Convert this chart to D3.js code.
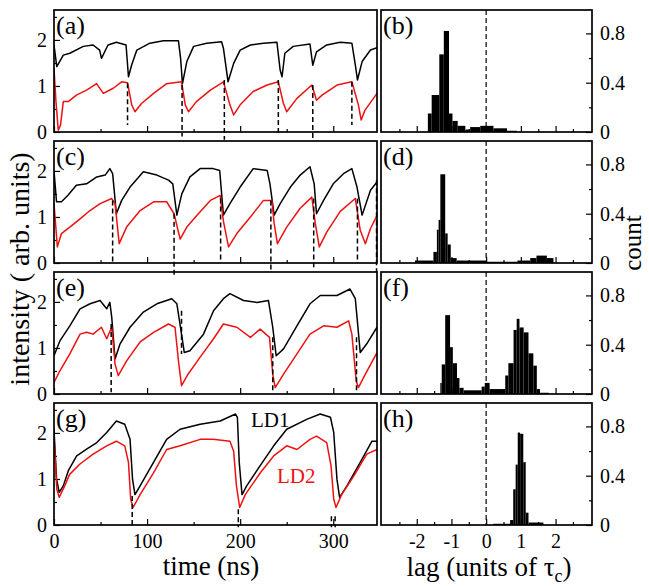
<!DOCTYPE html>
<meta charset="utf-8">
<style>
body { margin: 0; background: #fff; }
svg, text { font-family: "Liberation Serif", "Times New Roman", serif; }
.frame { fill: none; stroke: #000; stroke-width: 1.7; }
.ld1 { fill: none; stroke: #000; stroke-width: 1.5; stroke-linejoin: round; }
.ld2 { fill: none; stroke: #ee1111; stroke-width: 1.5; stroke-linejoin: round; }
.drop { stroke: #000; stroke-width: 1.5; stroke-dasharray: 5,3; }
.zero { stroke: #000; stroke-width: 1.2; stroke-dasharray: 5,3; }
.bar { fill: #000; }
</style>
<svg id="fig" width="649" height="586"></svg>
<script src="https://d3js.org/d3.v7.min.js"></script>
<script>

// time traces [time (ns), intensity], LD1 = black, LD2 = red
var ld1_a = [[0,1.89],[3,1.42],[10,1.67],[17,1.71],[31.5,1.86],[42,1.89],[49,1.78],[51,1.6],[58,1.89],[67,1.95],[77.4,1.89],[80,1.2],[83.5,1.46],[89,1.78],[103,1.93],[117.6,1.98],[133.7,1.98],[136,1.6],[138,1.05],[142.7,1.53],[150,1.86],[164,1.93],[180,1.96],[182,1.82],[187,1.09],[193,1.49],[200,1.78],[211,1.89],[225,1.93],[239.5,1.95],[243,1.34],[245,1.2],[248,1.71],[257,1.86],[275,1.91],[278,1.45],[282,1.74],[293,1.89],[307.5,1.95],[320,1.93],[323.7,1.46],[326,1.13],[331,1.53],[340,1.78],[347,1.83]];
var ld2_a = [[0,1.39],[2.1,0.66],[4.6,0.04],[7,0.15],[10,0.66],[15.4,0.66],[24,0.8],[35,0.91],[45.7,1.05],[53,0.84],[63.7,0.95],[72.7,1.09],[79,1.07],[83.5,0.59],[87,0.44],[94,0.62],[107,0.84],[121,1.05],[137,1.09],[141,0.59],[144.5,0.44],[153,0.66],[168,0.91],[182,1.09],[189,0.59],[193,0.37],[200,0.59],[214,0.88],[229,1.02],[241,1.09],[246.5,0.62],[250,0.44],[261,0.73],[277,1.02],[282,0.69],[288,0.8],[304,1.02],[320,1.09],[327,0.59],[330,0.26],[334,0.47],[347,0.84]];

var ld1_c = [[0,2.01],[2.7,1.33],[8,1.33],[15,1.47],[24,1.69],[35,1.72],[46,1.87],[55,1.91],[60,2.05],[63,1.94],[67,1.07],[72.7,1.36],[81.7,1.65],[96,1.98],[110.5,1.91],[123,1.8],[127.6,1.72],[132,1.04],[137.3,1.5],[146,1.87],[157,2.05],[171,2.05],[178,2.01],[182,1.04],[189,1.29],[200,1.65],[214,2.05],[229,2.01],[232,1.72],[236.5,1.04],[243,1.29],[254,1.65],[264.5,1.91],[275,2.09],[279.5,1.72],[282,1.07],[289.6,1.36],[300,1.72],[311,1.94],[320,2.05],[325.5,1.65],[331,1.04],[340,1.58],[347,1.76]];
var ld2_c = [[0,1.29],[3.6,0.35],[8,0.64],[17,0.78],[28,0.96],[38.7,1.14],[49.5,1.29],[62,1.4],[65.6,1.29],[70,0.42],[78,0.78],[92.5,1.14],[107,1.33],[121,1.33],[129,1.07],[135.5,0.52],[142.7,0.78],[153.4,1.03],[168,1.36],[178.5,1.47],[182,0.91],[187.5,0.35],[196.4,0.64],[211,1.0],[225,1.36],[234,1.36],[236.5,0.86],[240,0.42],[250,0.78],[264.5,1.19],[277,1.43],[280.7,0.86],[285,0.35],[293,0.67],[307.5,1.12],[323.7,1.4],[329,0.71],[334.5,0.42],[340,0.75],[347,1.03]];

var ld1_e = [[0,0.83],[6.5,1.16],[17,1.48],[28,1.85],[38.7,1.96],[49.5,2.03],[56.6,1.85],[60,1.99],[62,1.67],[65.6,0.76],[71,1.09],[81.7,1.45],[96,1.78],[110.5,1.96],[126.5,2.07],[132,1.96],[137,1.3],[140,0.9],[146,0.94],[160.6,1.3],[171.4,1.81],[182,2.07],[189,2.18],[203.6,2.03],[218,1.99],[230.4,2.03],[235,1.45],[238.7,0.83],[246.6,0.98],[261,1.48],[275,1.96],[286,2.14],[304,2.14],[318,2.28],[323.7,2.07],[329,0.9],[336,1.09],[347,1.45]];
var ld2_e = [[0,0.25],[6.5,0.51],[17,0.87],[28,1.3],[35,1.34],[42,1.3],[51,1.45],[56.6,1.2],[62,1.45],[65.6,0.65],[69,0.4],[78,0.72],[92.5,1.13],[107,1.34],[123,1.52],[130,1.45],[133.7,0.72],[137,0.18],[144,0.43],[157,0.8],[171.4,1.2],[182,1.52],[196.4,1.45],[211,1.23],[221.5,1.41],[231.5,1.23],[235,0.43],[237.6,0.14],[246.6,0.43],[261,0.87],[275,1.3],[289.6,1.48],[304,1.45],[316.5,1.59],[320,1.3],[324.7,0.28],[327,0.14],[334.5,0.43],[347,0.9]];

var ld1_g = [[0,2.08],[2.7,1.0],[5.6,0.71],[10,0.85],[15.4,1.18],[24.4,1.5],[35,1.65],[46,1.79],[56.6,2.01],[67,2.26],[76,2.19],[81.7,1.86],[84.4,0.99],[87,0.66],[92.5,0.85],[106.9,1.36],[121,1.86],[135.5,2.08],[157,2.19],[178.5,2.26],[195,2.41],[197,2.34],[199,1.36],[202,0.66],[207,0.85],[221.5,1.29],[236,1.72],[250,2.08],[272,2.3],[286,2.41],[297,2.34],[300.5,2.01],[304,0.99],[306.8,0.6],[314.7,0.85],[329,1.36],[341.6,1.82],[347,1.82]];
var ld2_g = [[0,1.93],[3,0.78],[5.6,0.6],[11.5,0.85],[16.8,1.1],[27.6,1.32],[42,1.54],[56.6,1.72],[67,1.82],[76,1.72],[80,1.36],[82.4,0.56],[85,0.38],[92.5,0.66],[106.9,1.13],[121,1.64],[135.5,1.72],[157,1.86],[171,1.86],[189,1.82],[193,1.6],[196,0.85],[199.5,0.38],[205.5,0.66],[221.5,1.13],[236,1.5],[250,1.72],[261,1.64],[275,1.86],[282,1.93],[293,1.79],[297.6,1.29],[300.5,0.56],[303,0.38],[309,0.66],[322,1.06],[336,1.54],[347,1.64]];

// dashed markers [time, upper value, lower value]
var drops_a = [[79,1.06,0.15],[137.6,1.02,-0.1],[183,1.13,-0.17],[241,1.13,-0.07],[278,1.02,-0.17],[320,1.09,0.15]];
var drops_c = [[63,1.36,0],[129,1.07,-0.3],[179,1.4,0.02],[233,1.36,-0.2],[279,1.4,-0.09],[326,1.4,0],[346.5,1.8,-0.2]];
var drops_e = [[61.4,1.52,0.04],[137,1.81,0.87],[235,1.23,0.04],[325,1.23,0.04]];
var drops_g = [[84,0.63,-0.05],[198,0.34,-0.05],[298,0.19,-0.05],[302,0.19,-0.05]];

// lag histograms [bin start, bin end, count]
var hist_b = [[-1.68,-1.57,0.15],[-1.57,-1.35,0.30],[-1.35,-1.22,0.63],[-1.22,-1.07,0.82],[-1.07,-0.97,0.15],[-0.97,-0.82,0.09],[-0.82,-0.6,0.05],[-0.6,-0.46,0.02],[-0.46,-0.17,0.04],[-0.17,0.21,0.05],[0.21,0.6,0.03],[0.6,0.89,0.01]];
var hist_d = [[-2.05,-1.52,0.02],[-1.52,-1.42,0.09],[-1.42,-1.37,0.27],[-1.37,-1.32,0.35],[-1.32,-1.18,0.72],[-1.18,-1.11,0.24],[-1.11,-1.02,0.15],[-1.02,-0.85,0.04],[-0.85,0,0.02],[0,0.9,0.01],[0.9,1.27,0.02],[1.27,1.45,0.04],[1.45,1.75,0.06],[1.75,1.94,0.04]];
var hist_f = [[-1.32,-1.28,0.09],[-1.28,-1.18,0.24],[-1.18,-1.04,0.64],[-1.04,-0.96,0.38],[-0.96,-0.84,0.25],[-0.84,-0.77,0.13],[-0.77,-0.65,0.05],[-0.65,-0.13,0.03],[-0.13,-0.04,0.06],[-0.04,0.1,0.09],[0.1,0.55,0.04],[0.55,0.64,0.15],[0.64,0.79,0.25],[0.79,0.88,0.52],[0.88,0.96,0.61],[0.96,1.08,0.54],[1.08,1.22,0.5],[1.22,1.36,0.33],[1.36,1.46,0.23],[1.46,1.55,0.04],[1.55,1.8,0.01]];
var hist_h = [[0.21,0.69,0.01],[0.69,0.78,0.04],[0.78,0.85,0.29],[0.85,0.91,0.49],[0.91,0.98,0.75],[0.98,1.07,0.74],[1.07,1.14,0.51],[1.14,1.22,0.1],[1.22,1.65,0.02]];

var timeTicks = [0, 100, 200, 300], timeMinor = [50, 150, 250];
var intTicks = [0, 1, 2], intMinor = [0.5, 1.5, 2.5];
var lagTicks = [-2, -1, 0, 1, 2], lagMinor = [-2.5, -1.5, -0.5, 0.5, 1.5, 2.5];
var cntTicks = [0, 0.4, 0.8], cntMinor = [0.2, 0.6];

var leftPanels = [
  {tag: "(a)", ld1: ld1_a, ld2: ld2_a, drops: drops_a},
  {tag: "(c)", ld1: ld1_c, ld2: ld2_c, drops: drops_c},
  {tag: "(e)", ld1: ld1_e, ld2: ld2_e, drops: drops_e},
  {tag: "(g)", ld1: ld1_g, ld2: ld2_g, drops: drops_g}
];
var rightPanels = [
  {tag: "(b)", hist: hist_b}, {tag: "(d)", hist: hist_d},
  {tag: "(f)", hist: hist_f}, {tag: "(h)", hist: hist_h}
];

var svg = d3.select("svg#fig");
var tops = [10, 141, 272, 403], ph = 122;

var xT = d3.scaleLinear().domain([0, 347]).range([54, 377]);
var xL = d3.scaleLinear().domain([-3.03, 3.05]).range([381, 592]);

var line = d3.line()
    .x(function(d) { return xT(d[0]); });

function styleAxis(g) {
  g.select(".domain").remove();
  g.attr("font-family", null).attr("font-size", 20);
  g.selectAll(".tick line").attr("stroke-width", 1.2);
  g.selectAll(".tick text").attr("fill", "#000");
}

leftPanels.forEach(function(p, i) {
  var top = tops[i], bot = top + ph;
  var y = d3.scaleLinear().domain([0, 2.65]).range([bot, top]);
  var g = svg.append("g");

  g.append("clipPath").attr("id", "clipL" + i)
    .append("rect").attr("x", xT.range()[0]).attr("y", top)
    .attr("width", xT.range()[1] - xT.range()[0]).attr("height", ph);

  var last = i == leftPanels.length - 1;
  g.append("g").attr("transform", "translate(0," + bot + ")")
    .call(d3.axisBottom(xT).tickValues(timeTicks).tickSizeInner(-6).tickSizeOuter(0).tickPadding(9)
      .tickFormat(last ? function(d) { return String(d); } : ""))
    .call(styleAxis);
  g.append("g").attr("transform", "translate(0," + bot + ")")
    .call(d3.axisBottom(xT).tickValues(timeMinor).tickSizeInner(-3).tickSizeOuter(0).tickFormat(""))
    .call(styleAxis);
  g.append("g").attr("transform", "translate(" + xT.range()[0] + ",0)")
    .call(d3.axisLeft(y).tickValues(intTicks).tickSizeInner(-6).tickSizeOuter(0).tickPadding(7)
      .tickFormat(function(d) { return String(d); }))
    .call(styleAxis);
  g.append("g").attr("transform", "translate(" + xT.range()[0] + ",0)")
    .call(d3.axisLeft(y).tickValues(intMinor).tickSizeInner(-3).tickSizeOuter(0).tickFormat(""))
    .call(styleAxis);

  var traces = g.append("g").attr("clip-path", "url(#clipL" + i + ")");
  line.y(function(d) { return y(d[1]); });
  traces.append("path").datum(p.ld1).attr("class", "ld1").attr("d", line);
  traces.append("path").datum(p.ld2).attr("class", "ld2").attr("d", line);

  g.selectAll("line.drop").data(p.drops).enter().append("line")
    .attr("class", "drop")
    .attr("x1", function(d) { return xT(d[0]); })
    .attr("x2", function(d) { return xT(d[0]); })
    .attr("y1", function(d) { return y(d[1]); })
    .attr("y2", function(d) { return y(d[2]); });

  g.append("rect").attr("class", "frame")
    .attr("x", xT.range()[0]).attr("y", top)
    .attr("width", xT.range()[1] - xT.range()[0]).attr("height", ph);

  g.append("text").attr("x", 56).attr("y", top + 24)
    .attr("font-size", 26).text(p.tag);
});

rightPanels.forEach(function(p, i) {
  var top = tops[i], bot = top + ph;
  var y = d3.scaleLinear().domain([0, 0.99]).range([bot, top]);
  var g = svg.append("g");
  var last = i == rightPanels.length - 1;

  g.selectAll("rect.bar").data(p.hist).enter().append("rect")
    .attr("class", "bar")
    .attr("x", function(d) { return xL(d[0]); })
    .attr("width", function(d) { return xL(d[1]) - xL(d[0]); })
    .attr("y", function(d) { return y(d[2]); })
    .attr("height", function(d) { return y(0) - y(d[2]); });

  g.append("line").attr("class", "zero")
    .attr("x1", xL(0)).attr("x2", xL(0))
    .attr("y1", top).attr("y2", bot);

  g.append("g").attr("transform", "translate(0," + bot + ")")
    .call(d3.axisBottom(xL).tickValues(lagTicks).tickSizeInner(-6).tickSizeOuter(0).tickPadding(9)
      .tickFormat(last ? function(d) { return String(d); } : ""))
    .call(styleAxis);
  g.append("g").attr("transform", "translate(0," + bot + ")")
    .call(d3.axisBottom(xL).tickValues(lagMinor).tickSizeInner(-3).tickSizeOuter(0).tickFormat(""))
    .call(styleAxis);
  g.append("g").attr("transform", "translate(" + xL.range()[1] + ",0)")
    .call(d3.axisRight(y).tickValues(cntTicks).tickSizeInner(-6).tickSizeOuter(0).tickPadding(8)
      .tickFormat(function(d) { return d === 0 ? "0" : d3.format(".1f")(d); }))
    .call(styleAxis);
  g.append("g").attr("transform", "translate(" + xL.range()[1] + ",0)")
    .call(d3.axisRight(y).tickValues(cntMinor).tickSizeInner(-3).tickSizeOuter(0).tickFormat(""))
    .call(styleAxis);

  g.append("rect").attr("class", "frame")
    .attr("x", xL.range()[0]).attr("y", top)
    .attr("width", xL.range()[1] - xL.range()[0]).attr("height", ph);

  g.append("text").attr("x", 383).attr("y", top + 24)
    .attr("font-size", 26).text(p.tag);
});

// LD labels in panel (g)
svg.append("text").attr("x", 251).attr("y", 427).attr("font-size", 21).attr("fill", "#000").text("LD1");
svg.append("text").attr("x", 277).attr("y", 483).attr("font-size", 21).attr("fill", "#ee1111").text("LD2");

// axis titles
svg.append("text").attr("x", 211).attr("y", 575).attr("font-size", 27)
  .attr("text-anchor", "middle").text("time (ns)");

var lag = svg.append("text").attr("x", 489).attr("y", 576).attr("font-size", 27)
  .attr("text-anchor", "middle");
lag.append("tspan").text("lag (units of \u03c4");
lag.append("tspan").attr("font-size", 18).attr("dy", 6).text("c");
lag.append("tspan").attr("dy", -6).text(")");

svg.append("text").attr("transform", "translate(29,269) rotate(-90)")
  .attr("font-size", 28).attr("text-anchor", "middle").text("intensity ( arb. units)");

svg.append("text").attr("transform", "translate(641,243) rotate(-90)")
  .attr("font-size", 25).attr("text-anchor", "middle").text("count");

</script>
